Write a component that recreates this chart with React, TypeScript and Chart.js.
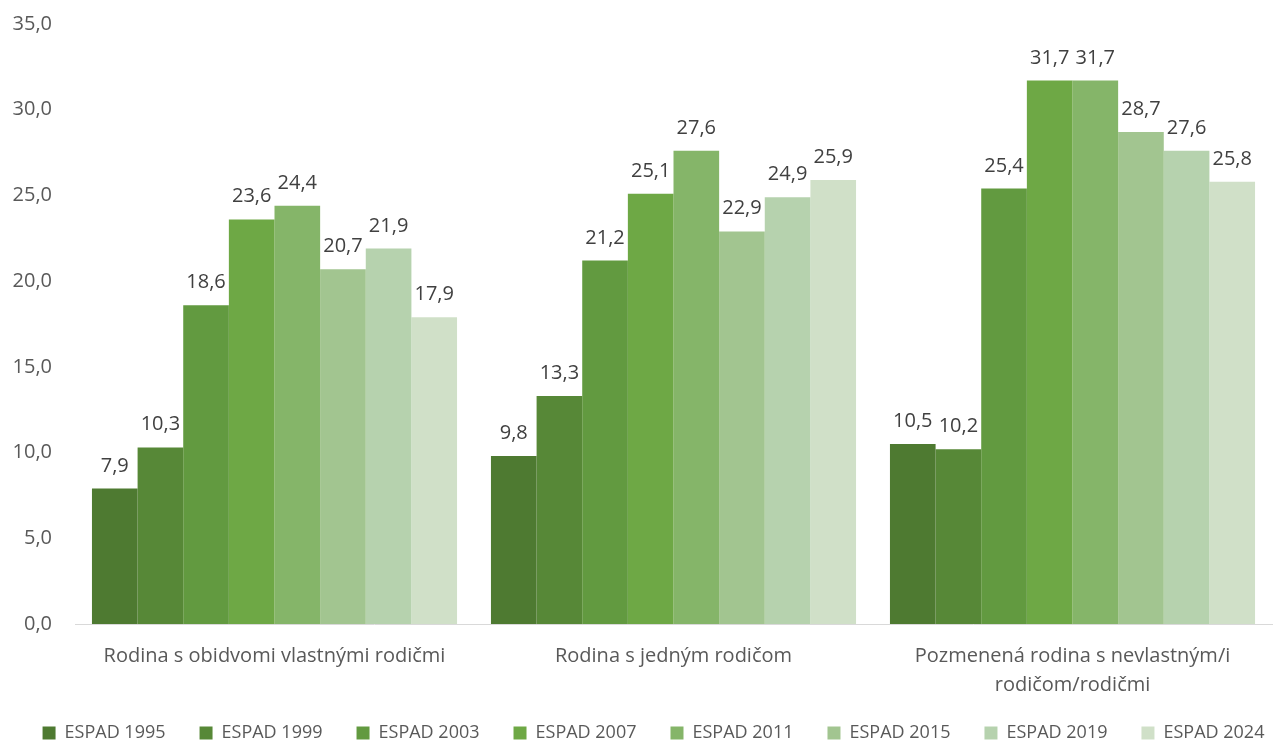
import React, { useEffect, useRef } from "react";
import { Chart, registerables } from "chart.js";

Chart.register(...registerables);

const categories: (string | string[])[] = [
  "Rodina s obidvomi vlastnými rodičmi",
  "Rodina s jedným rodičom",
  ["Pozmenená rodina s nevlastným/i", "rodičom/rodičmi"],
];
const seriesNames = ["ESPAD 1995", "ESPAD 1999", "ESPAD 2003", "ESPAD 2007", "ESPAD 2011", "ESPAD 2015", "ESPAD 2019", "ESPAD 2024"];
const espad1995 = [7.9, 9.8, 10.5];
const espad1999 = [10.3, 13.3, 10.2];
const espad2003 = [18.6, 21.2, 25.4];
const espad2007 = [23.6, 25.1, 31.7];
const espad2011 = [24.4, 27.6, 31.7];
const espad2015 = [20.7, 22.9, 28.7];
const espad2019 = [21.9, 24.9, 27.6];
const espad2024 = [17.9, 25.9, 25.8];
const colors = ["#4E7A31", "#578837", "#629A40", "#6EA845", "#85B569", "#A2C590", "#B6D2AE", "#D0E0C8"];
const yTicks = [0, 5, 10, 15, 20, 25, 30, 35];

const FONT = "'Open Sans', Lato, sans-serif";
const fmt = (v: number) => v.toFixed(1).replace(".", ",");

const labelPlugin = {
  id: "valueLabels",
  beforeDraw(chart: any) {
    // let the wrapped category labels draw past the axis box
    chart.scales.x._computeLabelArea = () => undefined;
  },
  afterDatasetsDraw(chart: any) {
    const ctx = chart.ctx;
    ctx.save();
    ctx.font = `20px ${FONT}`;
    ctx.fillStyle = "#404040";
    ctx.textAlign = "center";
    ctx.textBaseline = "alphabetic";
    chart.data.datasets.forEach((ds: any, i: number) => {
      const meta = chart.getDatasetMeta(i);
      meta.data.forEach((bar: any, j: number) => {
        ctx.fillText(fmt(ds.data[j]), bar.x, bar.y - 17);
      });
    });
    ctx.restore();
  },
};

export default function App() {
  const ref = useRef<HTMLCanvasElement>(null);
  useEffect(() => {
    document.body.style.margin = "0";
    const all = [espad1995, espad1999, espad2003, espad2007, espad2011, espad2015, espad2019, espad2024];
    const chart = new Chart(ref.current!, {
      type: "bar",
      data: {
        labels: categories as any,
        datasets: all.map((d, i) => ({
          label: seriesNames[i],
          data: d,
          backgroundColor: colors[i],
          borderWidth: 0,
          categoryPercentage: 0.915,
          barPercentage: 1,
        })),
      },
      options: {
        responsive: false,
        animation: false,
        layout: { padding: { top: 24, right: -35, left: -5, bottom: -12 } },
        plugins: {
          tooltip: { enabled: false },
          legend: {
            position: "bottom",
            labels: {
              boxWidth: 13,
              boxHeight: 13,
              padding: 34,
              color: "#595959",
              font: { family: FONT, size: 18 },
            },
          },
        },
        scales: {
          x: {
            grid: { display: false, drawTicks: false },
            border: { color: "#D9D9D9", width: 1 },
            ticks: {
              color: "#595959",
              font: { family: FONT, size: 20, lineHeight: 1.45 },
              padding: 18,
              maxRotation: 0,
              autoSkip: false,
            },
            afterFit: (s: any) => { s.height = 66; },
          },
          y: {
            min: 0,
            max: 35,
            grid: { display: false, drawTicks: false },
            border: { display: false },
            afterBuildTicks: (s: any) => { s.ticks = yTicks.map((v) => ({ value: v })); },
            ticks: {
              color: "#595959",
              font: { family: FONT, size: 20 },
              padding: 23,
              callback: (v: any) => fmt(Number(v)),
            },
            afterFit: (s: any) => {
              s.width = 80;
              s.paddingTop = 0;
              s.paddingBottom = 0;
            },
          },
          yRight: {
            type: "linear",
            position: "right",
            display: true,
            grid: { display: false, drawTicks: false },
            border: { display: false },
            ticks: { display: false },
            afterFit: (s: any) => { s.width = 40; s.paddingTop = 0; s.paddingBottom = 0; },
          },
        },
      },
      plugins: [labelPlugin],
    });
    return () => chart.destroy();
  }, []);
  return <canvas ref={ref} width={1277} height={740} style={{ display: "block" }} />;
}
